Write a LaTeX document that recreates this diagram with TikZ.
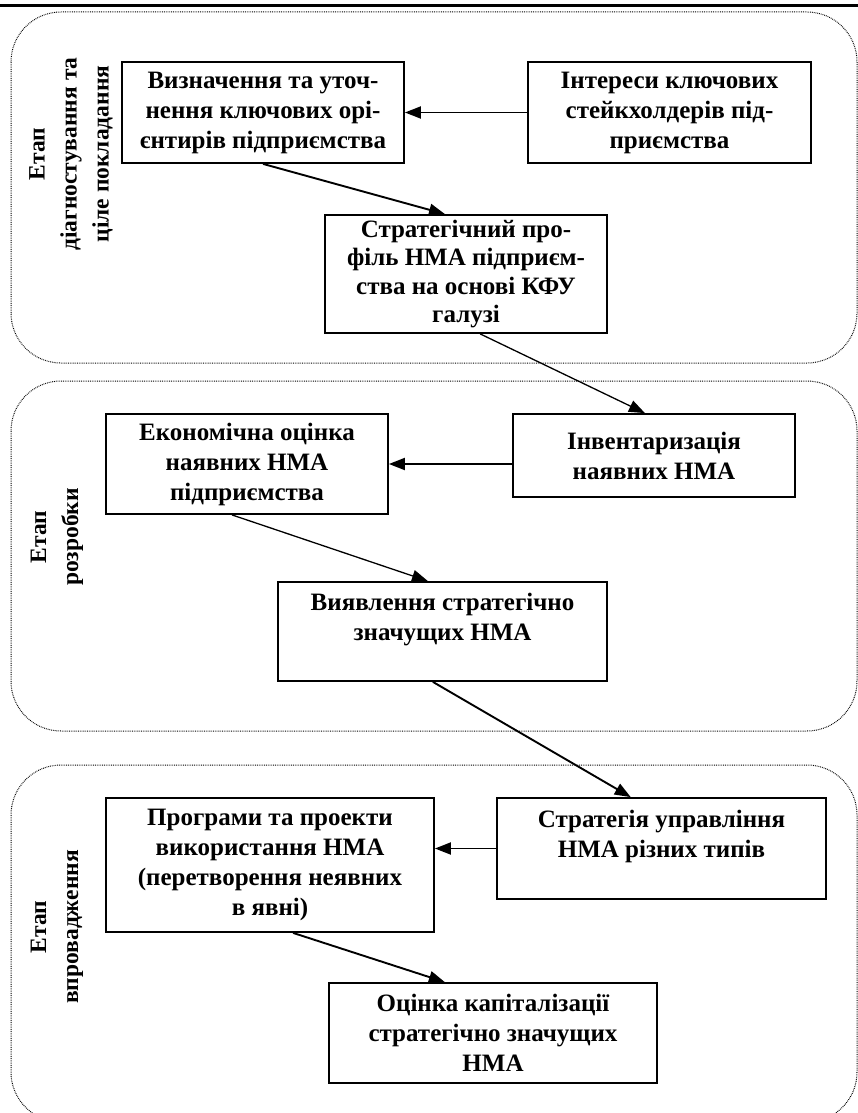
\documentclass[tikz,border=0pt]{standalone}
\usepackage{fontspec}
\setmainfont{Liberation Serif}
\usetikzlibrary{arrows.meta,calc}
\begin{document}
\begin{tikzpicture}[x=1pt,y=-1pt,
  stage/.style={draw=black,line width=1pt,dash pattern=on 0.8pt off 1pt,rounded corners=50pt},
  box/.style={draw=black,line width=1.8pt,fill=white,align=center,inner sep=2pt,
    font=\bfseries\fontsize{25}{30}\selectfont},
  lbl/.style={rotate=90,align=center,font=\bfseries\fontsize{23.5}{32}\selectfont},
  arr/.style={line width=1.9pt,-{Triangle[length=16pt,width=12pt]}},
  thinarr/.style={line width=1.3pt,-{Triangle[length=16pt,width=12pt]}}]
\useasboundingbox (0,0) rectangle (858,1113);
\clip (0,0) rectangle (858,1113);
% top rule
\draw[line width=2.2pt] (0,5.5) -- (858,5.5);
% stages
\draw[stage] (11,12) rectangle (857,363);
\draw[stage] (11,381) rectangle (857,731);
\draw[stage] (11,765) rectangle (857,1122);
% stage labels
\node[lbl] (l1) at (71,154) {Етап\\діагностування та\\ціле покладання};
\node[lbl] (l2) at (57,537) {Етап\\розробки};
\node[lbl] (l3) at (57,927) {Етап\\впровадження};
% boxes
\node[box,minimum width=282,minimum height=101] (b1) at (263,112.5)
  {Визначення та уточ-\\нення ключових орі-\\єнтирів підприємства};
\node[box,minimum width=283,minimum height=101] (b2) at (669.5,112.5)
  {Інтереси ключових\\стейкхолдерів під-\\приємства};
\node[box,minimum width=282,minimum height=118,font=\bfseries\fontsize{25}{28.5}\selectfont] (b3) at (466,274)
  {Стратегічний про-\\філь НМА підприєм-\\ства на основі КФУ\\галузі};
\node[box,minimum width=282,minimum height=83] (b4) at (654,455.5)
  {Інвентаризація\\наявних НМА};
\node[box,minimum width=282,minimum height=100] (b5) at (247,464)
  {Економічна оцінка\\наявних НМА\\підприємства};
\node[box,minimum width=329,minimum height=99] (b6) at (442.5,631.5)
  {Виявлення стратегічно\\значущих НМА\\\mbox{}};
\node[box,minimum width=329,minimum height=101] (b7) at (661.5,848.5)
  {Стратегія управління\\НМА різних типів\\\mbox{}};
\node[box,minimum width=328,minimum height=134] (b8) at (270,865)
  {Програми та проекти\\використання НМА\\(перетворення неявних\\в явні)};
\node[box,minimum width=328,minimum height=100] (b9) at (493,1033)
  {Оцінка капіталізації\\стратегічно значущих\\НМА};
% connectors
\draw[arr] (b2.west) -- (b1.east);
\draw[arr] (b1.south) -- ($(b3.north west)!0.426!(b3.north east)$);
\draw[thinarr] ($(b3.south west)!0.55!(b3.south east)$) -- ($(b4.north west)!0.468!(b4.north east)$);
\draw[arr] (b4.west |- b5.east) -- (b5.east);
\draw[thinarr] ($(b5.south west)!0.447!(b5.south east)$) -- ($(b6.north west)!0.456!(b6.north east)$);
\draw[arr] ($(b6.south west)!0.471!(b6.south east)$) -- ($(b7.north west)!0.407!(b7.north east)$);
\draw[arr] (b7.west) -- (b7.west -| b8.east);
\draw[arr] ($(b8.south west)!0.57!(b8.south east)$) -- ($(b9.north west)!0.354!(b9.north east)$);
\end{tikzpicture}
\end{document}
